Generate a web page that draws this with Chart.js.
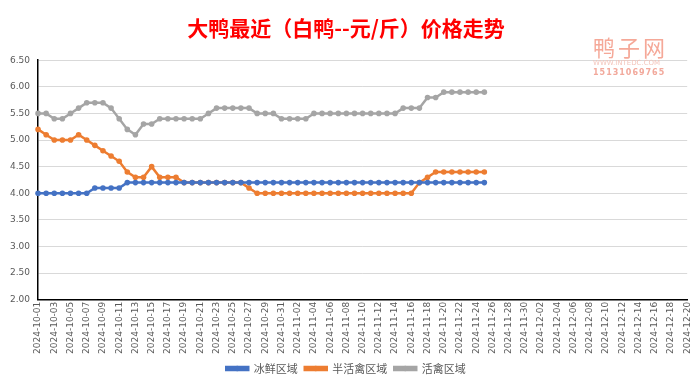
<!DOCTYPE html>
<html><head><meta charset="utf-8">
<script src="https://cdn.jsdelivr.net/npm/chart.js@4.4.1/dist/chart.umd.min.js"></script>
<style>
html,body{margin:0;padding:0;background:#fff;}
#wrap{position:relative;width:700px;height:384px;}
#wm{position:absolute;left:593px;top:33px;font-family:"Noto Sans CJK SC";pointer-events:none;}
#wm .a{font-size:22px;color:#F5A898;letter-spacing:3px;line-height:26px;}
#wm .b{font-size:7px;color:#F3C4BA;line-height:9px;font-family:"DejaVu Sans";}
#wm .c{font-size:8px;color:#F2A99C;line-height:10px;font-weight:bold;font-family:"DejaVu Sans";letter-spacing:1px;}
</style></head>
<body><div id="wrap"><canvas id="c" width="700" height="384"></canvas>
<div id="wm"><div class="a">鸭子网</div><div class="b">WWW.INTEDC.COM</div><div class="c">15131069765</div></div></div>
<script>
const dates = (function(){const out=[];const d=new Date(Date.UTC(2024,9,1));while(true){const s=d.toISOString().slice(0,10);out.push(s);if(s==='2024-12-20')break;d.setUTCDate(d.getUTCDate()+1);}return out;})();
const icedArea = [4.0,4.0,4.0,4.0,4.0,4.0,4.0,4.1,4.1,4.1,4.1,4.2,4.2,4.2,4.2,4.2,4.2,4.2,4.2,4.2,4.2,4.2,4.2,4.2,4.2,4.2,4.2,4.2,4.2,4.2,4.2,4.2,4.2,4.2,4.2,4.2,4.2,4.2,4.2,4.2,4.2,4.2,4.2,4.2,4.2,4.2,4.2,4.2,4.2,4.2,4.2,4.2,4.2,4.2,4.2,4.2];
const semiLiveArea = [5.2,5.1,5.0,5.0,5.0,5.1,5.0,4.9,4.8,4.7,4.6,4.4,4.3,4.3,4.5,4.3,4.3,4.3,4.2,4.2,4.2,4.2,4.2,4.2,4.2,4.2,4.1,4.0,4.0,4.0,4.0,4.0,4.0,4.0,4.0,4.0,4.0,4.0,4.0,4.0,4.0,4.0,4.0,4.0,4.0,4.0,4.0,4.2,4.3,4.4,4.4,4.4,4.4,4.4,4.4,4.4];
const liveArea = [5.5,5.5,5.4,5.4,5.5,5.6,5.7,5.7,5.7,5.6,5.4,5.2,5.1,5.3,5.3,5.4,5.4,5.4,5.4,5.4,5.4,5.5,5.6,5.6,5.6,5.6,5.6,5.5,5.5,5.5,5.4,5.4,5.4,5.4,5.5,5.5,5.5,5.5,5.5,5.5,5.5,5.5,5.5,5.5,5.5,5.6,5.6,5.6,5.8,5.8,5.9,5.9,5.9,5.9,5.9,5.9];
const seriesNames = ['冰鲜区域','半活禽区域','活禽区域'];
const colors = ['#4472C4','#ED7D31','#A5A5A5'];
const font = '"Noto Sans CJK SC", "Noto Sans", sans-serif';
function ds(label,data,color){return {label,data,borderColor:color,backgroundColor:color,borderWidth:2.5,pointRadius:2.8,pointBorderWidth:0,pointBackgroundColor:color,tension:0,fill:false};}
const legendLinePlugin = {
  id:'legendLine',
  afterDraw(chart){
    const lg = chart.legend; if(!lg||!lg.legendHitBoxes) return;
    const ctx = chart.ctx;
    lg.legendHitBoxes.forEach((b,i)=>{
      const c = colors[i];
      const cx = b.left + 11, cy = b.top + b.height/2;
      ctx.save(); ctx.fillStyle=c; ctx.beginPath(); ctx.arc(cx,cy,2.8,0,Math.PI*2); ctx.fill(); ctx.restore();
    });
  }
};
new Chart(document.getElementById('c'),{
  type:'line',
  data:{labels:dates,datasets:[ds(seriesNames[0],icedArea,colors[0]),ds(seriesNames[1],semiLiveArea,colors[1]),ds(seriesNames[2],liveArea,colors[2])]},
  options:{
    responsive:false,animation:false,
    layout:{padding:{left:2,right:10,top:12,bottom:0}},
    plugins:{
      title:{display:true,text:'大鸭最近（白鸭--元/斤）价格走势',color:'#FF0000',font:{family:font,size:21,weight:'bold'},padding:{top:3,bottom:20}},
      legend:{position:'bottom',labels:{color:'#595959',font:{family:font,size:11},boxWidth:22,boxHeight:3,padding:7}},
      tooltip:{enabled:false}
    },
    scales:{
      x:{offset:false,grid:{display:false,drawTicks:false},border:{display:true,color:'#000',width:1.5},
        ticks:{autoSkip:false,maxRotation:90,minRotation:90,color:'#595959',font:{family:'"DejaVu Sans"',size:9},padding:2,
          callback:function(v,i){return i%2===0?dates[i]:'';}}},
      y:{min:2,max:6.5,grid:{color:'#D9D9D9',drawTicks:false},border:{display:true,color:'#000',width:1.5},
        ticks:{stepSize:0.5,color:'#595959',font:{family:'"DejaVu Sans"',size:9},padding:8,callback:v=>v.toFixed(2)}}
    }
  },
  plugins:[legendLinePlugin]
});
</script></body></html>
